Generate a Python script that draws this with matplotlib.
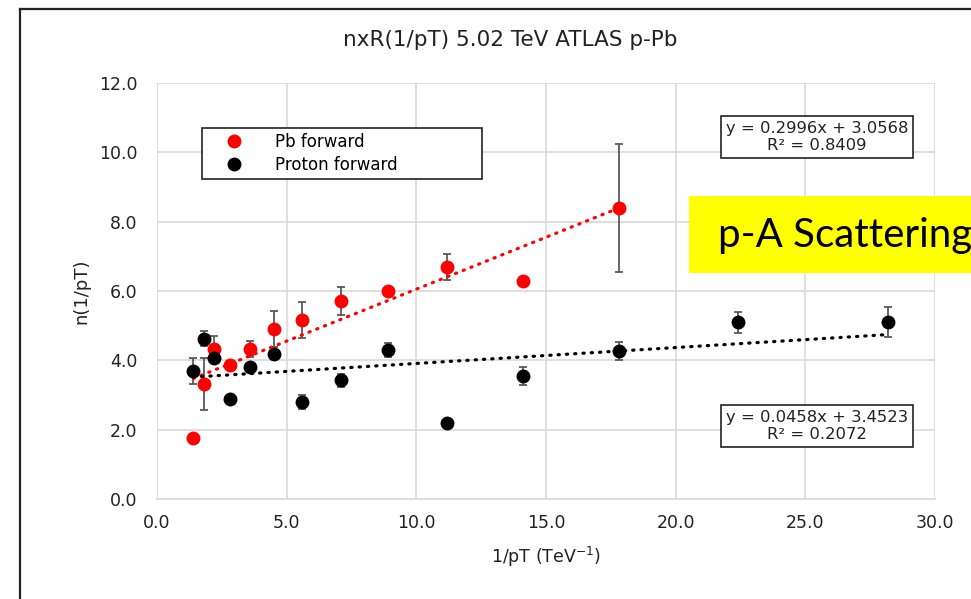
import numpy as np
import matplotlib
matplotlib.use('Agg')
import matplotlib.pyplot as plt
from matplotlib.lines import Line2D
from matplotlib.patches import Rectangle

# === DATEN ===
pb_x = [1.4, 1.8, 2.2, 2.8, 3.6, 4.5, 5.6, 7.1, 8.9, 11.2, 14.1, 17.8]
pb_y = [1.76, 3.32, 4.33, 3.87, 4.33, 4.90, 5.16, 5.71, 6.00, 6.69, 6.29, 8.39]
pb_err = [0.0, 0.75, 0.37, 0.0, 0.23, 0.52, 0.52, 0.40, 0.0, 0.38, 0.0, 1.85]

pr_x = [1.4, 1.8, 2.2, 2.8, 3.6, 4.5, 5.6, 7.1, 8.9, 11.2, 14.1, 17.8, 22.4, 28.2]
pr_y = [3.69, 4.62, 4.07, 2.88, 3.81, 4.18, 2.80, 3.43, 4.30, 2.19, 3.55, 4.27, 5.10, 5.10]
pr_err = [0.38, 0.22, 0.0, 0.0, 0.0, 0.0, 0.19, 0.19, 0.21, 0.0, 0.25, 0.25, 0.30, 0.43]

# Trendlinien: Steigung, Achsenabschnitt, R²
pb_fit = (0.2996, 3.0568, 0.8409)
pr_fit = (0.0458, 3.4523, 0.2072)

TITEL = 'nxR(1/pT) 5.02 TeV ATLAS p-Pb'
X_TICKS = [0, 5, 10, 15, 20, 25, 30]
Y_TICKS = [0, 2, 4, 6, 8, 10, 12]
# =============

ROT = '#ff0000'
SCHWARZ = '#000000'
GRAU = '#d9d9d9'
FEHLER = '#595959'
TEXT = '#222222'
FONT = 'DejaVu Sans'
FONT_CAL = 'Lato'

W, H = 971, 599
fig = plt.figure(figsize=(W / 100, H / 100), dpi=100)

# Rahmen (oben und links sichtbar)
fig.add_artist(Line2D([20 / W, 1.0], [1 - 9 / H, 1 - 9 / H], color=TEXT, lw=1.6,
                      transform=fig.transFigure))
fig.add_artist(Line2D([20 / W, 20 / W], [0, 1 - 9 / H], color=TEXT, lw=1.6,
                      transform=fig.transFigure))

ax = fig.add_axes([157 / W, 1 - 499 / H, 778 / W, 416 / H])

for sp in ['top', 'right', 'left']:
    ax.spines[sp].set_visible(False)
ax.spines['bottom'].set_color(GRAU)
ax.spines['bottom'].set_linewidth(1.2)

ax.set_xlim(0, 30)
ax.set_ylim(0, 12)
ax.set_xticks(X_TICKS)
ax.set_yticks(Y_TICKS)
ax.set_xticklabels([f'{v:.1f}' for v in X_TICKS], fontsize=12.5, family=FONT, color=TEXT)
ax.set_yticklabels([f'{v:.1f}' for v in Y_TICKS], fontsize=12.5, family=FONT, color=TEXT)
ax.tick_params(length=0)
ax.tick_params(axis='x', pad=11)
ax.tick_params(axis='y', pad=14)
ax.grid(True, color=GRAU, lw=1.2)
ax.set_axisbelow(True)

# Fehlerbalken + Punkte
ax.errorbar(pb_x, pb_y, yerr=pb_err, fmt='none', ecolor=FEHLER, elinewidth=1.3,
            capsize=3, capthick=1.3, zorder=2)
ax.errorbar(pr_x, pr_y, yerr=pr_err, fmt='none', ecolor=FEHLER, elinewidth=1.3,
            capsize=3, capthick=1.3, zorder=2)
ax.plot(pb_x, pb_y, 'o', color=ROT, ms=10, mec='none', zorder=3, label='Pb forward')
ax.plot(pr_x, pr_y, 'o', color=SCHWARZ, ms=10, mec='none', zorder=3, label='Proton forward')

# Trendlinien
for xs, fit, col in [(pb_x, pb_fit, ROT), (pr_x, pr_fit, SCHWARZ)]:
    xl = np.array([min(xs), max(xs)])
    ax.plot(xl, fit[0] * xl + fit[1], linestyle=(0, (0.4, 2.2)), lw=2.3, color=col,
            dash_capstyle='round', zorder=4)

# Gleichungen
for fit, yy in [(pb_fit, 10.44), (pr_fit, 2.1)]:
    ax.text(25.45, yy, f'y = {fit[0]}x + {fit[1]}\nR² = {fit[2]}', ha='center', va='center',
            multialignment='center', fontsize=11.8, family=FONT, color=TEXT,
            linespacing=1.2, zorder=5,
            bbox=dict(boxstyle='square,pad=0.3', fc='white', ec=TEXT, lw=1.2))

leg = ax.legend(loc='upper left', bbox_to_anchor=(0.058, 0.772, 0.36, 0.12), mode='expand',
                borderaxespad=0, fancybox=False, framealpha=1, edgecolor=TEXT,
                prop={'family': FONT, 'size': 12}, handletextpad=0.9,
                handlelength=3.2, labelspacing=0.3, borderpad=0.3)
leg.get_frame().set_linewidth(1.2)

ax.set_xlabel('1/pT (TeV$^{\\mathregular{-1}}$)', family=FONT, fontsize=12.5,
              color=TEXT, labelpad=9)
ax.set_ylabel('n(1/pT)', family=FONT, fontsize=13, color=TEXT, labelpad=6)

fig.text(510 / W, 1 - 40 / H, TITEL, ha='center', va='center', family=FONT,
         fontsize=15.5, color=TEXT)

# Gelber Kasten
fig.add_artist(Rectangle((689 / W, 1 - 273 / H), 0.4, 77 / H, transform=fig.transFigure,
                         facecolor='#ffff00', edgecolor='none', zorder=10))
fig.text(718 / W, 1 - 236 / H, 'p-A Scattering', ha='left', va='center', family=FONT_CAL,
         fontsize=29, color='black', zorder=11)

fig.savefig('out.png', dpi=100)
